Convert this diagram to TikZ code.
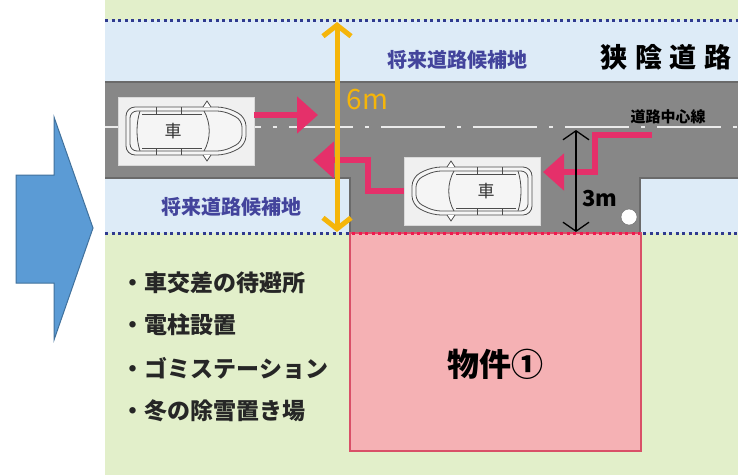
\documentclass[tikz,border=0pt]{standalone}
\usepackage{fontspec}
\setmainfont{Noto Sans CJK JP}
\usepackage{xcolor}
\usetikzlibrary{arrows.meta, calc, positioning}

\definecolor{fieldgreen}{HTML}{E2EFCA}
\definecolor{reserveblue}{HTML}{DDEBF7}
\definecolor{roadgray}{HTML}{878787}
\definecolor{roadedge}{HTML}{6A6A6A}
\definecolor{dotblue}{HTML}{2F3A8F}
\definecolor{dotred}{HTML}{F0194F}
\definecolor{lotpink}{HTML}{F5B1B4}
\definecolor{lotedge}{HTML}{D95068}
\definecolor{turnpink}{HTML}{E5306A}
\definecolor{widthgold}{HTML}{F5B50A}
\definecolor{labelblue}{HTML}{43449C}
\definecolor{bigarrow}{HTML}{5B9BD5}
\definecolor{bigarrowedge}{HTML}{41719C}

\tikzset{
  carline/.style={draw=black!70, line width=0.8pt},
  carbox/.style={fill=black!6, draw=black!15, minimum width=136pt, minimum height=68pt, inner sep=0pt},
  cartext/.style={font=\fontsize{17}{17}\selectfont, text=black!80},
  car/.pic={
    % body, outer and inner line
    \draw[carline, fill=white!96!black, rounded corners=9pt] (-60,-24) -- (40,-24) -- (60,-14) -- (60,14) -- (40,24) -- (-60,24) -- cycle;
    \draw[carline, rounded corners=7pt] (-56,-20) -- (38,-20) -- (56,-11) -- (56,11) -- (38,20) -- (-56,20) -- cycle;
    % windows
    \draw[carline] (18,-20) .. controls (25,-8) and (25,8) .. (18,20);
    \draw[carline] (-46,-20) .. controls (-50,-8) and (-50,8) .. (-46,20);
    \draw[carline] (-44,-17) -- (16,-17) (-44,17) -- (16,17);
    \draw[carline] (-30,-24) -- (-30,-17) (-30,17) -- (-30,24);
    \draw[carline] (-5,-24) -- (-5,-17) (-5,17) -- (-5,24);
    % mirrors
    \draw[carline, fill=white] (17,-24) -- (21,-30) -- (25,-24);
    \draw[carline, fill=white] (17,24) -- (21,30) -- (25,24);
  }
}

\begin{document}
\begin{tikzpicture}[x=1pt, y=-1pt,
    turn/.style={draw=turnpink, line width=6pt, line join=miter, -{Triangle[length=21pt,width=36pt]}},
    widthdim/.style={draw=widthgold, line width=5pt, {Straight Barb[length=11pt,width=28pt]}-{Straight Barb[length=11pt,width=28pt]}},
    halfdim/.style={draw=black, line width=1.3pt, {Straight Barb[length=9pt,width=26pt]}-{Straight Barb[length=9pt,width=26pt]}},
    dotline/.style={line width=3pt, dash pattern=on 3pt off 3.5pt},
    reserve/.style={text=labelblue, font=\bfseries\fontsize{20}{20}\selectfont},
    item/.style={anchor=west, text=black!85, font=\bfseries\fontsize{23}{23}\selectfont}]
    \useasboundingbox (0,0) rectangle (738,475);
    \fill[white] (0,0) rectangle (738,475);

    % Ground and reserved strips
    \fill[fieldgreen] (105,0) rectangle (738,475);
    \fill[reserveblue] (105,20) rectangle (738,82);
    \fill[reserveblue] (105,178) rectangle (738,233);

    % Road with the setback in front of the lot
    \draw[roadedge, fill=roadgray, line width=1.5pt] (105,82) -- (738,82) -- (738,178) -- (640,178) -- (640,233) -- (350,233) -- (350,178) -- (105,178);
    \fill[roadgray] (105,83) rectangle (738,177);

    % Lot
    \draw[lotedge, fill=lotpink, line width=1.3pt] (350,233) rectangle (641,451);

    % Boundary lines
    \draw[dotblue, dotline] (105,20) -- (738,20);
    \draw[dotblue, dotline] (105,233) -- (350,233);
    \draw[dotred, dotline] (352,233) -- (640,233);
    \draw[dotblue, dotline] (643,233) -- (738,233);

    % Road centre line
    \draw[white!92!black, line width=1.2pt, dash pattern=on 64pt off 12pt on 4pt off 12pt] (105,127) -- (738,127);

    % Cars
    \node[carbox] (carL) at (186,131) {};
    \pic at (carL) {car};
    \node[cartext] (carLtext) at ($(carL)+(-13,0)$) {車};
    \node[carbox] (carR) at (472,191) {};
    \pic[xscale=-1] at (carR) {car};
    \node[cartext] (carRtext) at ($(carR)+(14,0)$) {車};

    % Passing moves
    \coordinate (a1) at (318,115);
    \draw[turn] (carL.east |- a1) -- (a1);
    \coordinate (a2) at (313,160);
    \draw[turn] (carR.west) -- ++(-36,0) |- (a2);
    \coordinate (a3s) at (652,135);
    \coordinate (a3) at (543,172);
    \draw[turn] (a3s) -- ++(-57,0) |- (a3);

    % Widths
    \coordinate (wTop) at (337,22);
    \coordinate (wBot) at (337,232);
    \draw[widthdim] (wTop) -- (wBot);
    \node[anchor=west, text=widthgold, font=\fontsize{28}{28}\selectfont] (six) at (343,100) {6m};
    \coordinate (hTop) at (576,130);
    \coordinate (hBot) at (576,232);
    \draw[halfdim] (hTop) -- (hBot);
    \node[font=\bfseries\fontsize{22}{22}\selectfont] (three) at (600,199) {3m};
    \node[circle, draw=black!60, fill=white, minimum size=16pt, inner sep=0pt] (pole) at (629,217) {};

    % Labels
    \node[reserve] (resTop) at (457,60) {将来道路候補地};
    \node[reserve] (resBot) at (231,207) {将来道路候補地};
    \node[font=\bfseries\fontsize{27}{27}\selectfont] (title) at (666,57) {狭\hspace{8pt}陰\hspace{8pt}道\hspace{8pt}路};
    \node[font=\bfseries\fontsize{15}{15}\selectfont] (midlbl) at (668,117) {道路中心線};
    \node[font=\bfseries\fontsize{32}{32}\selectfont] (lot) at (495,364) {物件①};

    % Uses of the strip
    \node[item] (use1) at (118,283) {・車交差の待避所};
    \node[item] (use2) at (118,325) {・電柱設置};
    \node[item] (use3) at (118,368) {・ゴミステーション};
    \node[item] (use4) at (118,411) {・冬の除雪置き場};

    % Big arrow
    \draw[bigarrowedge, fill=bigarrow, line width=1pt] (16,175) -- (54,175) -- (54,117) -- (93,228) -- (54,340) -- (54,283) -- (16,283) -- cycle;
\end{tikzpicture}
\end{document}
